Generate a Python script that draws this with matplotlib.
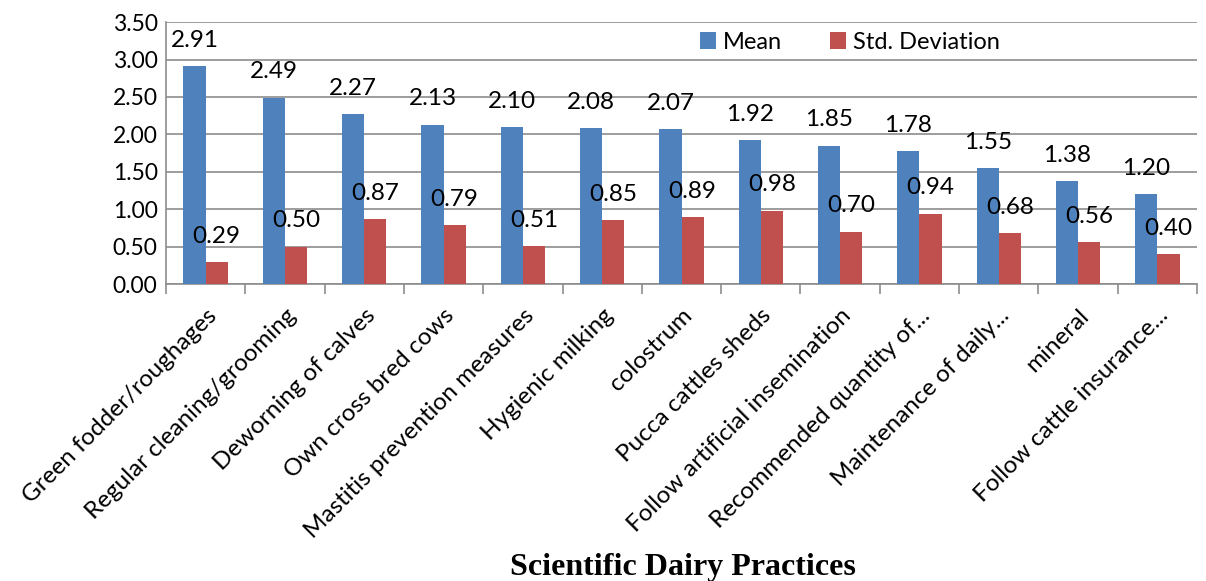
import numpy as np
import matplotlib
matplotlib.use("Agg")
from matplotlib import pyplot as plt

practices = [
    "Green fodder/roughages",
    "Regular cleaning/grooming",
    "Deworning of calves",
    "Own cross bred cows",
    "Mastitis prevention measures",
    "Hygienic milking",
    "colostrum",
    "Pucca cattles sheds",
    "Follow artificial insemination",
    "Recommended quantity of...",
    "Maintenance of daily...",
    "mineral",
    "Follow cattle insurance...",
]
mean = [2.91, 2.49, 2.27, 2.13, 2.10, 2.08, 2.07, 1.92, 1.85, 1.78, 1.55, 1.38, 1.20]
std_dev = [0.29, 0.50, 0.87, 0.79, 0.51, 0.85, 0.89, 0.98, 0.70, 0.94, 0.68, 0.56, 0.40]

plt.rcParams['font.family'] = ['Lato', 'DejaVu Sans']

fig = plt.figure(figsize=(12.06, 5.81), dpi=100)
ax = fig.add_axes([0.1376, 0.511, 0.855, 0.451])

x = np.arange(len(practices))
w = 0.28
b1 = ax.bar(x - w / 2, mean, w, color='#4F81BD', label='Mean', zorder=3)
b2 = ax.bar(x + w / 2, std_dev, w, color='#C0504D', label='Std. Deviation', zorder=3)

# value labels above each bar
for rects, vals in ((b1, mean), (b2, std_dev)):
    for r, v in zip(rects, vals):
        ax.annotate(f'{v:.2f}', (r.get_x() + r.get_width() / 2, v),
                    xytext=(0, 11), textcoords='offset points',
                    ha='center', va='bottom', fontsize=17.5)

ax.set_xlim(-0.5, len(practices) - 0.5)
ax.set_ylim(0, 3.5)
ax.set_yticks(np.arange(0, 3.51, 0.5))
ax.set_yticklabels([f'{v:.2f}' for v in np.arange(0, 3.51, 0.5)], fontsize=16.5)
ax.yaxis.grid(True, color='#8c8c8c', linewidth=1.2, zorder=0)
ax.tick_params(axis='y', length=0, pad=6)

# ticks between categories, labels at the centres
ax.set_xticks(np.arange(-0.5, len(practices), 1.0), minor=False)
ax.set_xticklabels([])
ax.set_xticks(x, minor=True)
ax.set_xticklabels(practices, minor=True, rotation=45, ha='right',
                   rotation_mode='anchor', fontsize=17.5)
ax.tick_params(axis='x', which='major', length=7, color='#8c8c8c', width=1.2)
ax.tick_params(axis='x', which='minor', length=0, pad=15)

for s in ('top', 'right'):
    ax.spines[s].set_visible(False)
for s in ('left', 'bottom'):
    ax.spines[s].set_color('#8c8c8c')
    ax.spines[s].set_linewidth(1.2)

ax.legend(loc='upper left', bbox_to_anchor=(0.497, 1.045), ncol=2, frameon=False,
          fontsize=17, handlelength=0.7, handleheight=0.7, columnspacing=2.0,
          handletextpad=0.3)

fig.text(0.566, 0.024, 'Scientific Dairy Practices', ha='center', va='center',
         fontsize=23, fontweight='bold', family='Liberation Serif')

fig.savefig('out.png', dpi=100)
